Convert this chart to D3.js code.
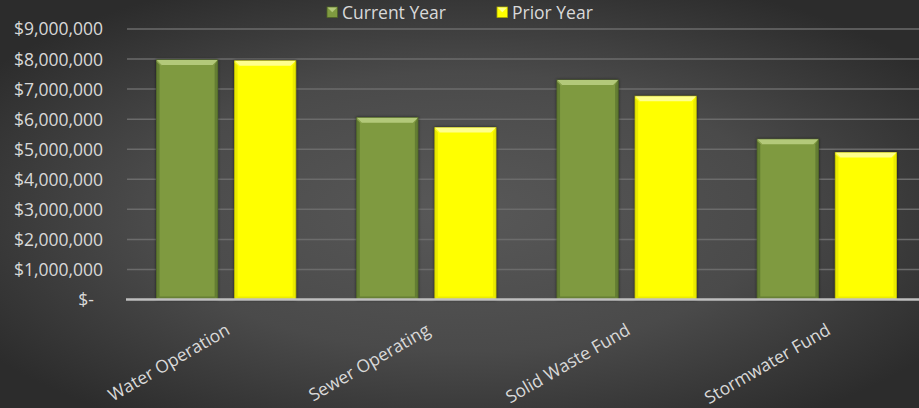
<!DOCTYPE html>
<html>
<head>
<meta charset="utf-8">
<script src="https://cdn.jsdelivr.net/npm/d3@7"></script>
<style>
  html, body { margin: 0; padding: 0; background: #3a3a3a; }
  svg { display: block; }
</style>
</head>
<body>
<svg id="chart" width="919" height="408"></svg>
<script>
// Fund categories and the two comparison series (USD)
const categories = ["Water Operation", "Sewer Operating", "Solid Waste Fund", "Stormwater Fund"];
const seriesNames = ["Current Year", "Prior Year"];
const currentYear = [7970000, 6050000, 7300000, 5330000];
const priorYear = [7940000, 5720000, 6760000, 4890000];
const yTicks = [0, 1000000, 2000000, 3000000, 4000000, 5000000, 6000000, 7000000, 8000000, 9000000];

const W = 919, H = 408;
const FONT = "'Open Sans', sans-serif";
const FONT_SIZE = "17.5px";
const svg = d3.select("#chart");
const defs = svg.append("defs");

// Dark radial backdrop
const bg = defs.append("radialGradient").attr("id", "bgGrad")
  .attr("cx", "50%").attr("cy", "52%").attr("r", "62%");
bg.append("stop").attr("offset", "0%").attr("stop-color", "#585858");
bg.append("stop").attr("offset", "55%").attr("stop-color", "#4a4a4a");
bg.append("stop").attr("offset", "100%").attr("stop-color", "#2c2c2c");
svg.append("rect").attr("width", W).attr("height", H).attr("fill", "url(#bgGrad)");

// Soft drop shadow under bars
const sh = defs.append("filter").attr("id", "barShadow")
  .attr("x", "-20%").attr("y", "-10%").attr("width", "140%").attr("height", "120%");
sh.append("feDropShadow").attr("dx", 0).attr("dy", 0).attr("stdDeviation", 1.6)
  .attr("flood-color", "#000").attr("flood-opacity", 0.6);

const styles = {
  "Current Year": { fill: "#7f9a40", edge: "#5d7530", bevelTop: "#b3c97a", bevelSide: "#95ad58", stroke: "#4e6327" },
  "Prior Year":   { fill: "#ffff00", edge: "#e6e600", bevelTop: "#ffff8c", bevelSide: "#ffff40", stroke: "#a8a800" }
};

const plotLeft = 126, plotRight = 927, y0 = 299.5, yTop = 29;

const x0 = d3.scaleBand().domain(categories).range([plotLeft, plotRight])
  .paddingInner(0.305).paddingOuter(0.1525);
const x1 = d3.scaleBand().domain(seriesNames).range([0, x0.bandwidth()])
  .paddingInner(0.218).paddingOuter(0);
const y = d3.scaleLinear().domain([0, 9000000]).range([y0, yTop]);

// Gridlines
svg.append("g").selectAll("line").data(yTicks.filter(d => d > 0)).join("line")
  .attr("x1", plotLeft + 1).attr("x2", W)
  .attr("y1", d => y(d)).attr("y2", d => y(d))
  .attr("stroke", "#6b6b6b").attr("stroke-width", 1.5);

// Y axis labels
const fmt = d => d === 0 ? "$-" : "$" + d3.format(",")(d);
const yAxis = d3.axisLeft(y).tickValues(yTicks).tickFormat(fmt).tickSize(0).tickPadding(0);
const yg = svg.append("g").attr("transform", `translate(103,0)`).call(yAxis);
yg.select(".domain").remove();
yg.selectAll("text")
  .attr("fill", "#d9d9d9")
  .style("font-family", FONT)
  .style("font-size", FONT_SIZE)
  .attr("dy", "0.34em");
yg.selectAll(".tick").filter(d => d === 0).select("text").attr("x", -9);

// Bars
const rows = categories.map((c, i) => ({ cat: c, values: [
  { s: "Current Year", v: currentYear[i] },
  { s: "Prior Year", v: priorYear[i] }
]}));

const groups = svg.append("g").selectAll("g").data(rows).join("g")
  .attr("transform", d => `translate(${x0(d.cat)},0)`);

const bars = groups.selectAll("g.bar").data(d => d.values).join("g").attr("class", "bar");
bars.each(function(d) {
  const g = d3.select(this);
  const st = styles[d.s];
  const bx = x1(d.s), bw = x1.bandwidth();
  const by = y(d.v), bh = y0 - y(d.v);
  const bev = 5;
  g.append("rect").attr("x", bx).attr("y", by).attr("width", bw).attr("height", bh)
    .attr("fill", st.fill).attr("stroke", st.stroke).attr("stroke-width", 1)
    .attr("filter", "url(#barShadow)");
  // side edges, slightly darker
  g.append("path")
    .attr("d", `M${bx},${by} L${bx + 3},${by + bev} L${bx + 3},${y0 - 3} L${bx},${y0} Z`)
    .attr("fill", st.edge).attr("opacity", 0.8);
  g.append("path")
    .attr("d", `M${bx + bw},${by} L${bx + bw - 3},${by + bev} L${bx + bw - 3},${y0 - 3} L${bx + bw},${y0} Z`)
    .attr("fill", st.edge).attr("opacity", 0.8);
  // bottom edge
  g.append("path")
    .attr("d", `M${bx},${y0} L${bx + 3},${y0 - 3} L${bx + bw - 3},${y0 - 3} L${bx + bw},${y0} Z`)
    .attr("fill", st.edge).attr("opacity", 0.7);
  // top bevel
  g.append("path")
    .attr("d", `M${bx},${by} L${bx + bw},${by} L${bx + bw - bev},${by + bev} L${bx + bev},${by + bev} Z`)
    .attr("fill", st.bevelTop);
  g.append("path")
    .attr("d", `M${bx},${by} L${bx + bev},${by + bev} L${bx + bev},${by + bev + 1} L${bx},${by + 2} Z`)
    .attr("fill", st.bevelSide).attr("opacity", 0.7);
});

// Baseline axis
svg.append("line").attr("x1", plotLeft).attr("x2", W).attr("y1", y0).attr("y2", y0)
  .attr("stroke", "#bfbfbf").attr("stroke-width", 2.5);

// Category labels, rotated
const xAxis = d3.axisBottom(x0).tickSize(0).tickPadding(0);
const xg = svg.append("g").attr("transform", `translate(0,${y0})`).call(xAxis);
xg.select(".domain").remove();
xg.selectAll("text")
  .attr("fill", "#d9d9d9")
  .style("font-family", FONT)
  .style("font-size", FONT_SIZE)
  .attr("text-anchor", "end")
  .attr("dy", null)
  .attr("y", 0)
  .attr("transform", "translate(5,34) rotate(-30)");

// Legend
const legendItems = [
  { s: "Current Year", x: 327 },
  { s: "Prior Year", x: 497 }
];
const lg = svg.append("g").selectAll("g").data(legendItems).join("g")
  .attr("transform", d => `translate(${d.x},7)`);
lg.append("rect").attr("width", 10.5).attr("height", 10.5)
  .attr("fill", d => styles[d.s].fill).attr("stroke", d => styles[d.s].stroke).attr("stroke-width", 0.8);
lg.append("path").attr("d", "M0.5,0.5 L10,0.5 L5.25,5.25 Z").attr("fill", d => styles[d.s].bevelTop);
lg.append("text").attr("x", 15).attr("y", 5.5).attr("dy", "0.36em")
  .attr("fill", "#d9d9d9")
  .style("font-family", FONT)
  .style("font-size", FONT_SIZE)
  .text(d => d.s);
</script>
</body>
</html>
